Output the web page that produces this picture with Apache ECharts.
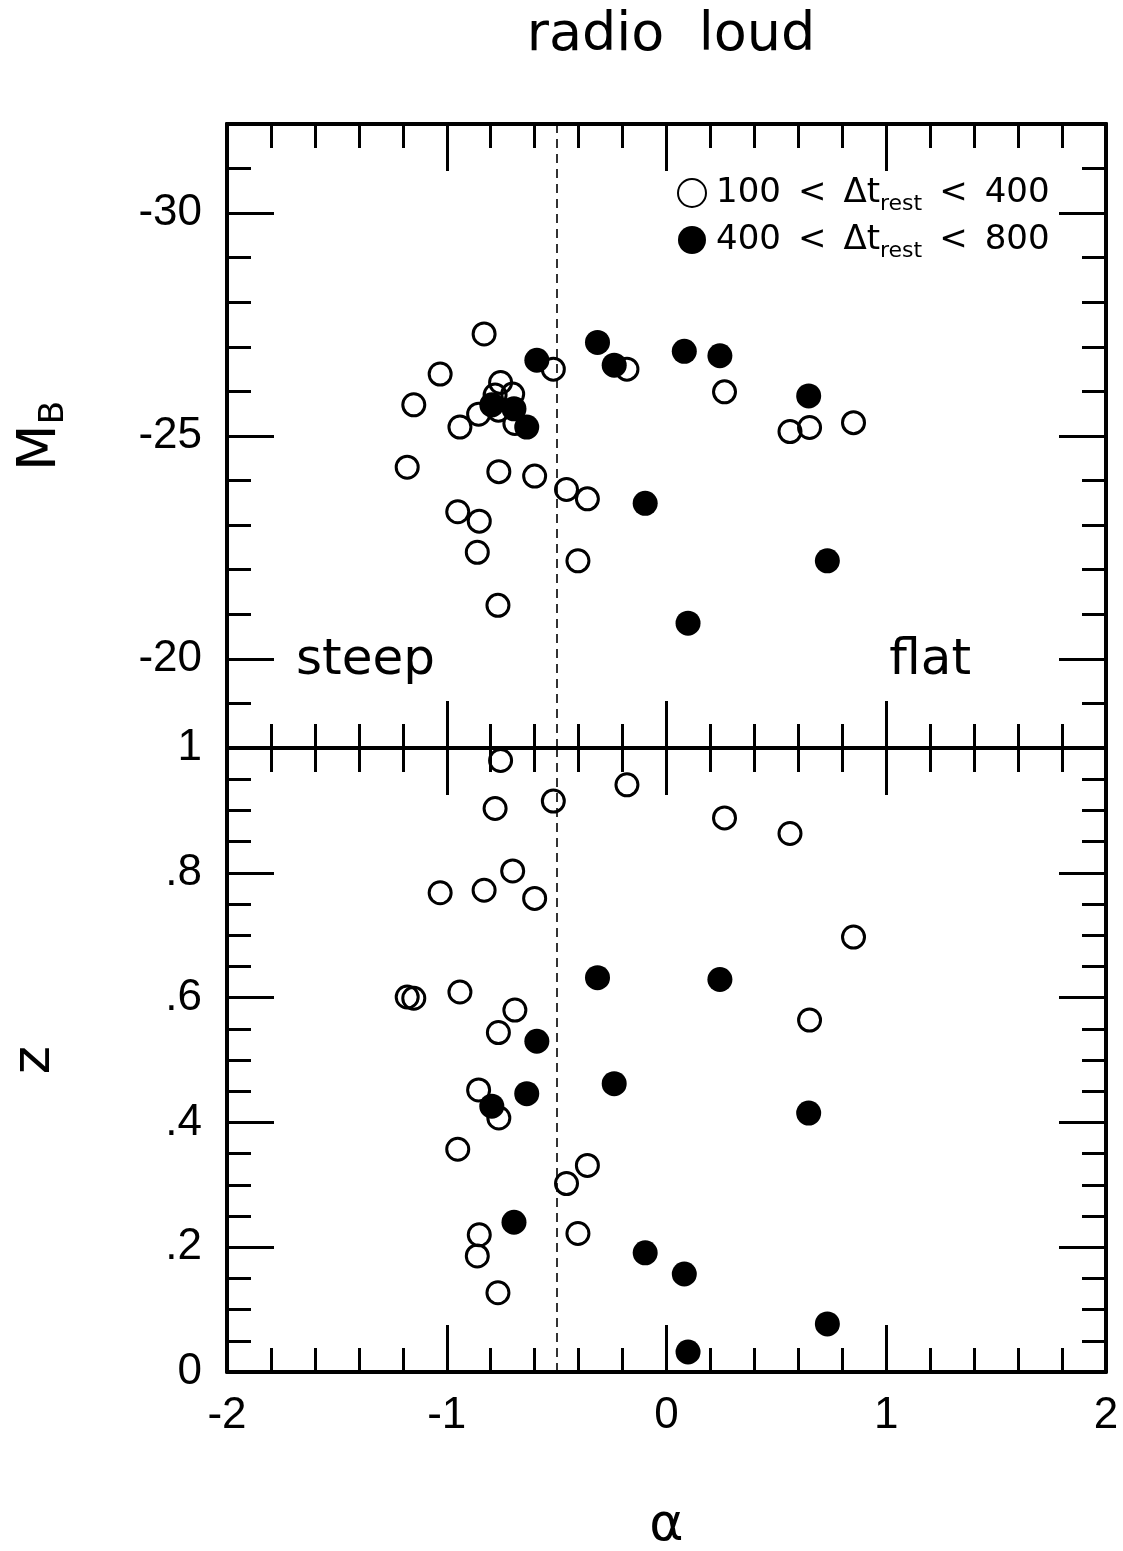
<!DOCTYPE html>
<html><head><meta charset="utf-8">
<script src="https://cdn.jsdelivr.net/npm/echarts@6/dist/echarts.min.js"></script>
<style>html,body{margin:0;padding:0;background:#fff}#c{width:1123px;height:1551px}</style>
</head><body><div id="c"></div>
<script>
// ---- data ----
// open circles: 100 < Δt_rest < 400
const alphaOpen = [-0.83,-1.03,-1.15,-0.755,-0.78,-0.70,-0.855,-0.94,-0.765,-0.69,-0.515,-0.18,-1.18,-0.763,-0.60,-0.455,-0.36,-0.95,-0.852,-0.861,-0.403,-0.767,0.264,0.562,0.651,0.851];
const mbOpen    = [-27.29,-26.39,-25.70,-26.20,-25.92,-25.94,-25.49,-25.20,-25.58,-25.28,-26.50,-26.50,-24.30,-24.20,-24.10,-23.80,-23.59,-23.30,-23.09,-22.39,-22.20,-21.20,-25.99,-25.10,-25.19,-25.30];
const zOpen     = [0.772,0.768,0.599,0.980,0.903,0.803,0.452,0.609,0.544,0.580,0.915,0.941,0.601,0.407,0.759,0.302,0.331,0.357,0.220,0.186,0.222,0.127,0.888,0.863,0.564,0.697];
// filled circles: 400 < Δt_rest < 800
const alphaFilled = [-0.795,-0.694,-0.636,-0.59,-0.314,-0.238,0.081,0.243,0.647,-0.097,0.732,0.098];
const mbFilled    = [-25.70,-25.61,-25.20,-26.70,-27.10,-26.59,-26.90,-26.80,-25.90,-23.49,-22.20,-20.80];
const zFilled     = [0.426,0.240,0.446,0.530,0.632,0.462,0.157,0.629,0.415,0.191,0.077,0.032];

const seriesNames = ['100\u2002<\u2002Δt_rest\u2002<\u2002400', '400\u2002<\u2002Δt_rest\u2002<\u2002800'];
const mbMajorTicks = [-30, -25, -20];
const alphaDivide = -0.5;
const regionLabels = [{name:'steep', alpha:-1.37, mb:-19.95}, {name:'flat', alpha:1.20, mb:-19.95}];

// ---- styling ----
const TICKF = 'Liberation Sans';
const TEXTF = 'DejaVu Sans';
const AXW = 4, TKW = 3, MAJ = 47, MIN = 24;

function xAxisDef(grid, pos, showLabel) {
  return {
    type:'value', gridIndex:grid, position:pos, min:-2, max:2, interval:1,
    axisLine:{show:true, onZero:false, lineStyle:{color:'#000', width:AXW}},
    axisTick:{show:true, inside:true, length:MAJ, lineStyle:{color:'#000', width:TKW}},
    minorTick:{show:true, splitNumber:5, length:MIN, lineStyle:{color:'#000', width:TKW}},
    splitLine:{show:false}, minorSplitLine:{show:false},
    axisLabel:{show:showLabel, fontFamily:TICKF, fontSize:44, color:'#000', margin:22},
    ...(showLabel ? {name:'α', nameLocation:'middle', nameGap:128,
        nameTextStyle:{fontFamily:TEXTF, fontSize:52, color:'#000'}} : {})
  };
}
function mbMinorAxis(pos) {
  return {
    type:'value', gridIndex:0, position:pos, min:-32, max:-18, interval:1, inverse:true,
    axisLine:{show:true, onZero:false, lineStyle:{color:'#000', width:AXW}},
    axisTick:{show:true, inside:true, length:MIN, lineStyle:{color:'#000', width:TKW}},
    splitLine:{show:false}, axisLabel:{show:false}
  };
}
function mbMajorAxis(pos, showLabel) {
  return {
    type:'value', gridIndex:0, position:pos, min:-32, max:-18, interval:1, inverse:true,
    axisLine:{show:true, onZero:false, lineStyle:{color:'#000', width:AXW}},
    axisTick:{show:true, inside:true, length:MAJ, customValues:mbMajorTicks, lineStyle:{color:'#000', width:TKW}},
    splitLine:{show:false},
    axisLabel:{show:showLabel, customValues:mbMajorTicks, fontFamily:TICKF, fontSize:44, color:'#000', margin:25},
    ...(showLabel ? {name:'{m|M}{b|B}', nameLocation:'middle', nameRotate:90, nameGap:156,
        nameTextStyle:{fontFamily:TEXTF, fontSize:54, color:'#000',
          rich:{m:{fontFamily:TEXTF, fontSize:54, color:'#000'},
                b:{fontFamily:TEXTF, fontSize:34, color:'#000', padding:[26,0,0,0]}}}} : {})
  };
}
function zAxisDef(pos, showLabel) {
  return {
    type:'value', gridIndex:1, position:pos, min:0, max:1, interval:0.2,
    axisLine:{show:true, onZero:false, lineStyle:{color:'#000', width:AXW}},
    axisTick:{show:true, inside:true, length:MAJ, lineStyle:{color:'#000', width:TKW}},
    minorTick:{show:true, splitNumber:4, length:MIN, lineStyle:{color:'#000', width:TKW}},
    splitLine:{show:false}, minorSplitLine:{show:false},
    axisLabel:{show:showLabel, fontFamily:TICKF, fontSize:44, color:'#000', margin:25,
      formatter:v => { if (Math.abs(v) < 1e-9) return '0'; if (Math.abs(v-1) < 1e-9) return '1'; return v.toFixed(1).replace(/^0/, ''); }},
    ...(showLabel ? {name:'z', nameLocation:'middle', nameRotate:90, nameGap:165,
        nameTextStyle:{fontFamily:TEXTF, fontSize:54, color:'#000'}} : {})
  };
}

const zip2 = (a, b) => a.map((v, i) => [v, b[i]]);
const openStyle = {color:'rgba(0,0,0,0)', borderColor:'#000', borderWidth:3, opacity:1};
const filledStyle = {color:'#000', borderColor:'#000', borderWidth:0, opacity:1};
const divideLine = {silent:true, symbol:['none','none'], label:{show:false},
  lineStyle:{color:'#000', width:1.6, type:[9,6], opacity:1}, data:[{xAxis:alphaDivide}]};

const option = {
  animation:false,
  backgroundColor:'#fff',
  title:{text:'radio\u00a0\u00a0loud', left:666, top:4, textAlign:'center',
    textStyle:{fontFamily:TEXTF, fontSize:54, fontWeight:'normal', color:'#000'}},
  legend:{
    data:seriesNames, orient:'vertical', left:672, top:171,
    itemWidth:28, itemHeight:28, itemGap:8, selectedMode:false,
    textStyle:{fontFamily:TEXTF, fontSize:34, color:'#000', padding:[0,0,0,5],
      rich:{s:{fontFamily:TEXTF, fontSize:22, color:'#000', padding:[22,0,0,0]}}},
    formatter:n => n.replace('Δt_rest', 'Δt{s|rest}')
  },
  grid:[
    {left:227, right:17, top:124, height:624, containLabel:false, outerBoundsMode:'none'},
    {left:227, right:17, top:748, height:624, containLabel:false, outerBoundsMode:'none'}
  ],
  xAxis:[xAxisDef(0,'bottom',false), xAxisDef(0,'top',false), xAxisDef(1,'bottom',true), xAxisDef(1,'top',false)],
  yAxis:[mbMinorAxis('left'), mbMajorAxis('left',true), mbMinorAxis('right'), mbMajorAxis('right',false),
         zAxisDef('left',true), zAxisDef('right',false)],
  series:[
    {type:'scatter', name:seriesNames[0], xAxisIndex:0, yAxisIndex:0, symbol:'circle', symbolSize:22,
     itemStyle:openStyle, data:zip2(alphaOpen, mbOpen), markLine:divideLine, emphasis:{disabled:true}},
    {type:'scatter', name:seriesNames[0], xAxisIndex:2, yAxisIndex:4, symbol:'circle', symbolSize:22,
     itemStyle:openStyle, data:zip2(alphaOpen, zOpen), markLine:divideLine, emphasis:{disabled:true}},
    {type:'scatter', name:seriesNames[1], xAxisIndex:0, yAxisIndex:0, symbol:'circle', symbolSize:25,
     itemStyle:filledStyle, data:zip2(alphaFilled, mbFilled), emphasis:{disabled:true}},
    {type:'scatter', name:seriesNames[1], xAxisIndex:2, yAxisIndex:4, symbol:'circle', symbolSize:25,
     itemStyle:filledStyle, data:zip2(alphaFilled, zFilled), emphasis:{disabled:true}},
    {type:'scatter', name:'regions', xAxisIndex:0, yAxisIndex:0, symbol:'circle', symbolSize:2, silent:true,
     itemStyle:{color:'rgba(0,0,0,0)', opacity:1},
     label:{show:true, position:'inside', formatter:'{b}', fontFamily:TEXTF, fontSize:50, color:'#000', opacity:1},
     data:regionLabels.map(r => ({name:r.name, value:[r.alpha, r.mb]}))}
  ]
};
const chart = echarts.init(document.getElementById('c'));
chart.setOption(option);
</script></body></html>
